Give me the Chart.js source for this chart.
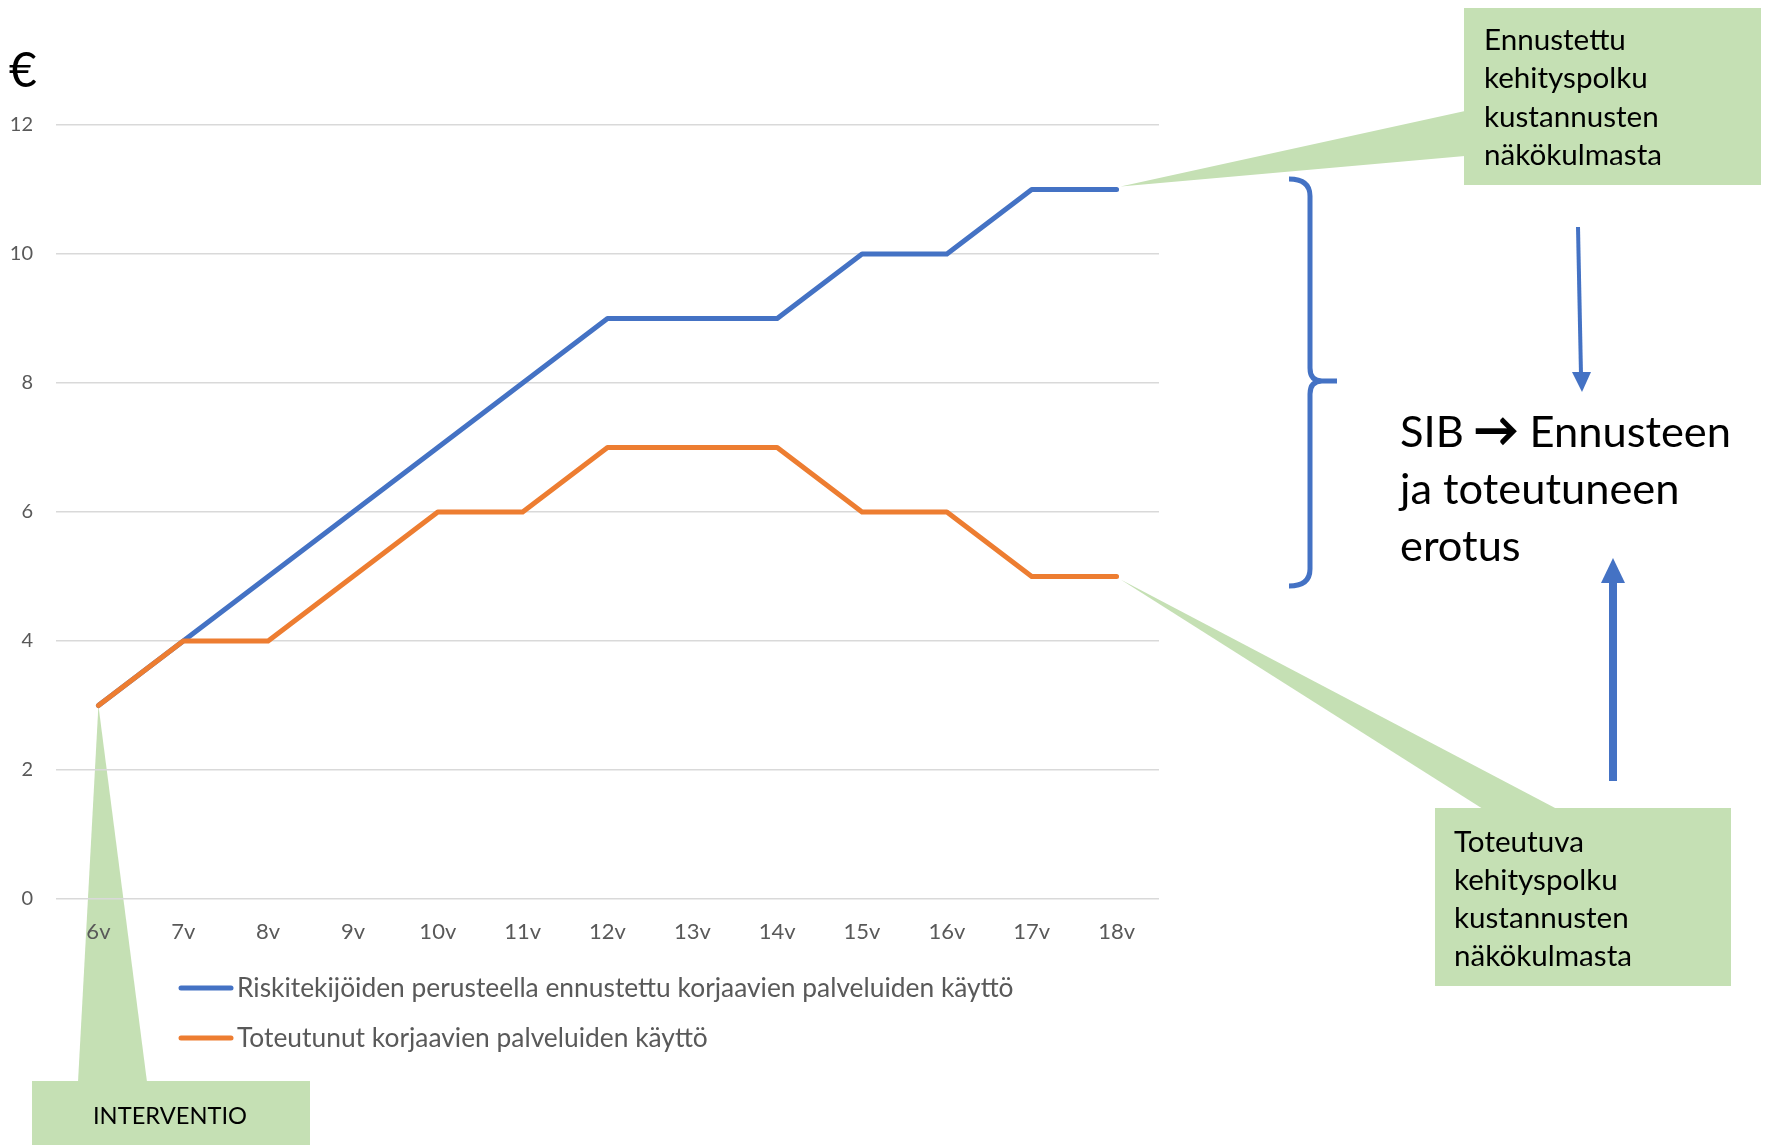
<!DOCTYPE html>
<html><head><meta charset="utf-8">
<script src="https://cdn.jsdelivr.net/npm/chart.js@4/dist/chart.umd.min.js"></script>
<style>html,body{margin:0;padding:0;background:#fff;overflow:hidden}#wrap{position:relative;width:1772px;height:1145px}</style>
</head><body><div id="wrap"><canvas id="c" width="1772" height="1145" style="width:1772px;height:1145px"></canvas></div>
<script>
const categories = ['6v','7v','8v','9v','10v','11v','12v','13v','14v','15v','16v','17v','18v'];
const forecastValues = [3,4,5,6,7,8,9,9,9,10,10,11,11];
const actualValues = [3,4,4,5,6,6,7,7,7,6,6,5,5];
const yTickLabels = ['0','2','4','6','8','10','12'];
const seriesLabels = ['Riskitekijöiden perusteella ennustettu korjaavien palveluiden käyttö','Toteutunut korjaavien palveluiden käyttö'];
const unitLabel = '€';
const noteForecast = ['Ennustettu','kehityspolku','kustannusten','näkökulmasta'];
const noteActual = ['Toteutuva','kehityspolku','kustannusten','näkökulmasta'];
const noteMainParts = ['SIB', '\u2192', 'Ennusteen'];
const noteMain = ['SIB \u2192 Ennusteen','ja toteutuneen','erotus'];
const noteIntervention = 'INTERVENTIO';

const BLUE = '#4472C4', ORANGE = '#ED7D31', GREEN = '#C5E0B4', GRAY = '#595959';
const FAMILY = 'Lato, "Open Sans", sans-serif';

function fit(ctx, text, target){
  ctx.font = '100px ' + FAMILY;
  return 100 * target / ctx.measureText(text).width;
}
function tri(ctx, a, b, c){
  ctx.beginPath(); ctx.moveTo(a[0],a[1]); ctx.lineTo(b[0],b[1]); ctx.lineTo(c[0],c[1]); ctx.closePath(); ctx.fill();
}

const annot = {
  id: 'annot',
  beforeDraw(chart){
    const ctx = chart.ctx, xs = chart.scales.x, ys = chart.scales.y;
    ctx.save();
    ctx.fillStyle = '#fff'; ctx.fillRect(0,0,chart.width,chart.height);
    ctx.fillStyle = GREEN;
    const n = categories.length - 1;
    const ex = xs.getPixelForValue(n);
    ctx.fillRect(1464, 8, 297, 177);
    tri(ctx, [1465,111], [ex+4, ys.getPixelForValue(forecastValues[n]) - 3], [1465,156]);
    ctx.fillRect(1435, 808, 296, 178);
    tri(ctx, [1483,809], [ex+4, ys.getPixelForValue(actualValues[n]) + 3], [1557,809]);
    ctx.fillRect(32, 1081, 278, 70);
    tri(ctx, [78,1082], [xs.getPixelForValue(0), ys.getPixelForValue(actualValues[0])], [147,1082]);
    ctx.restore();
  },
  afterDraw(chart){
    const ctx = chart.ctx;
    ctx.save();
    ctx.textBaseline = 'middle';
    ctx.textAlign = 'left';
    ctx.fillStyle = '#000';
    ctx.font = '48px ' + FAMILY;
    ctx.fillText(unitLabel, 9, 72);
    let s = fit(ctx, 'näkökulmasta', 178);
    ctx.font = s + 'px ' + FAMILY;
    noteForecast.forEach((t,i)=>ctx.fillText(t, 1484, 40 + i*38.5));
    noteActual.forEach((t,i)=>ctx.fillText(t, 1454, 842 + i*38.3));
    s = fit(ctx, noteIntervention, 154);
    ctx.font = s + 'px ' + FAMILY;
    ctx.fillText(noteIntervention, 93, 1116);
    s = fit(ctx, noteMain[0], 331);
    ctx.font = s + 'px ' + FAMILY;
    ctx.fillText(noteMainParts[0], 1400, 433);
    ctx.textAlign = 'right';
    ctx.fillText(noteMainParts[2], 1731, 433);
    ctx.textAlign = 'center';
    ctx.strokeStyle = '#000'; ctx.lineWidth = 2.2; ctx.lineJoin = 'miter';
    ctx.fillText(noteMainParts[1], 1496, 431);
    ctx.strokeText(noteMainParts[1], 1496, 431);
    ctx.textAlign = 'left';
    noteMain.slice(1).forEach((t,i)=>ctx.fillText(t, 1400, 490 + i*57));
    // bracket
    ctx.strokeStyle = BLUE; ctx.lineWidth = 5; ctx.lineCap = 'butt'; ctx.lineJoin = 'round';
    ctx.beginPath();
    ctx.moveTo(1289,179);
    ctx.quadraticCurveTo(1310,179,1310,196);
    ctx.lineTo(1310,368);
    ctx.quadraticCurveTo(1310,381,1322,381);
    ctx.lineTo(1337,381);
    ctx.moveTo(1322,381);
    ctx.quadraticCurveTo(1310,381,1310,394);
    ctx.lineTo(1310,569);
    ctx.quadraticCurveTo(1310,586,1289,586);
    ctx.stroke();
    ctx.fillStyle = BLUE;
    ctx.lineWidth = 4;
    ctx.beginPath(); ctx.moveTo(1578,227); ctx.lineTo(1581,375); ctx.stroke();
    tri(ctx, [1572,372], [1591,372], [1582,392]);
    ctx.lineWidth = 8;
    ctx.beginPath(); ctx.moveTo(1613,781); ctx.lineTo(1613,578); ctx.stroke();
    tri(ctx, [1601,583], [1625,583], [1613,558]);
    // legend
    s = fit(ctx, seriesLabels[0], 777);
    chart.data.datasets.slice().sort((a,b)=>a.legendIndex-b.legendIndex).forEach((d,i)=>{
      const ry = 988 + i*50;
      ctx.strokeStyle = d.borderColor; ctx.lineWidth = 5; ctx.lineCap = 'round';
      ctx.beginPath(); ctx.moveTo(181, ry); ctx.lineTo(231, ry); ctx.stroke();
      ctx.fillStyle = GRAY; ctx.font = s + 'px ' + FAMILY;
      ctx.fillText(d.label, 237, ry);
    });
    ctx.restore();
  }
};

new Chart(document.getElementById('c'), {
  type: 'line',
  data: {
    labels: categories,
    datasets: [
      {label: seriesLabels[0], data: forecastValues, borderColor: BLUE, backgroundColor: BLUE, borderWidth: 5, pointRadius: 0, tension: 0, order: 2, legendIndex: 0, borderCapStyle: 'round', borderJoinStyle: 'round'},
      {label: seriesLabels[1], data: actualValues, borderColor: ORANGE, backgroundColor: ORANGE, borderWidth: 5, pointRadius: 0, tension: 0, order: 1, legendIndex: 1, borderCapStyle: 'round', borderJoinStyle: 'round'}
    ]
  },
  options: {
    responsive: false, animation: false, devicePixelRatio: 1,
    layout: {padding: {top: 125, left: 10, right: 613, bottom: 196}},
    plugins: {legend: {display: false}, tooltip: {enabled: false}},
    scales: {
      x: {
        offset: true,
        grid: {display: false},
        border: {display: false},
        ticks: {color: GRAY, font: {family: FAMILY, size: 22}, padding: 12, maxRotation: 0, autoSkip: false},
        afterFit(sc){ sc.height = 50; }
      },
      y: {
        min: 0, max: 12,
        grid: {color: '#D9D9D9', lineWidth: 1.6, drawTicks: false},
        border: {display: false},
        ticks: {stepSize: 2, color: GRAY, font: {family: FAMILY, size: 20}, padding: 23,
          callback: (v)=> yTickLabels[yTickLabels.indexOf(String(v))] ?? ''},
        afterFit(sc){ sc.width = 46; }
      }
    }
  },
  plugins: [annot]
});
</script></body></html>
